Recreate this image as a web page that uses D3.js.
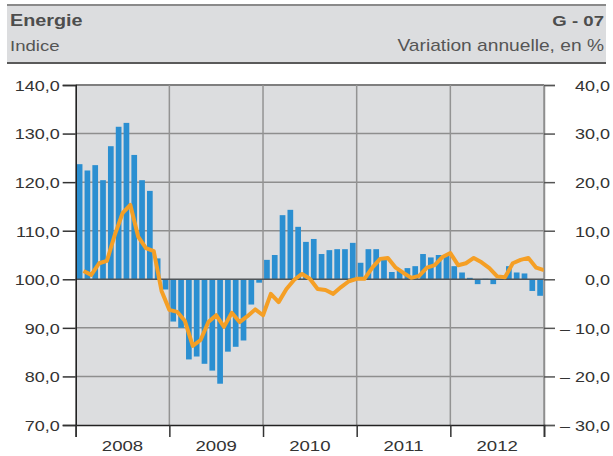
<!DOCTYPE html>
<html>
<head>
<meta charset="utf-8">
<script src="https://cdn.jsdelivr.net/npm/d3@7"></script>
<style>
  html, body { margin: 0; padding: 0; background: #fff; }
  svg { display: block; font-family: "Liberation Sans", Arial, sans-serif; }
</style>
</head>
<body>
<svg id="chart" width="613" height="456"></svg>
<script>
// ---- data ----
const years = ["2008", "2009", "2010", "2011", "2012"];
const leftTicks = [70, 80, 90, 100, 110, 120, 130, 140];
const rightTicks = [-30, -20, -10, 0, 10, 20, 30, 40];
// annual variation, % (bars, right axis), monthly Jan 2008 .. Dec 2012
const variation2008 = [23.7, 22.4, 23.5, 20.4, 27.4, 31.4, 32.2, 25.6, 20.4, 18.2, 4.3, -2.1];
const variation2009 = [-8.7, -10.0, -16.5, -15.9, -17.4, -18.8, -21.5, -14.9, -13.9, -12.6, -5.2, -0.7];
const variation2010 = [4.0, 5.0, 13.2, 14.3, 10.8, 7.7, 8.3, 5.2, 6.0, 6.2, 6.2, 7.5];
const variation2011 = [3.4, 6.2, 6.2, 4.0, 1.5, 1.7, 2.3, 2.7, 5.2, 4.5, 5.0, 5.0];
const variation2012 = [2.7, 1.4, 0.3, -1.0, 0.1, -1.0, 0.1, 2.7, 1.4, 1.2, -2.4, -3.4];
// index (line, left axis)
const index2008 = [101.7, 100.9, 103.3, 103.8, 109.1, 113.6, 115.3, 108.8, 106.4, 105.8, 97.6, 93.7];
const index2009 = [93.3, 91.4, 86.3, 87.5, 91.2, 92.6, 90.2, 93.1, 91.2, 92.4, 93.8, 92.6];
const index2010 = [97.0, 95.3, 98.0, 99.9, 101.1, 100.1, 98.0, 97.8, 97.0, 98.4, 99.6, 100.1];
const index2011 = [100.1, 102.4, 104.2, 104.4, 102.4, 101.3, 100.3, 100.7, 102.4, 102.9, 104.6, 105.4];
const index2012 = [102.9, 103.3, 104.4, 103.5, 102.3, 100.6, 100.4, 103.3, 104.0, 104.4, 102.4, 101.9];

const variation = [].concat(variation2008, variation2009, variation2010, variation2011, variation2012);
const indexVals = [].concat(index2008, index2009, index2010, index2011, index2012);
const nMonths = variation.length;

// ---- layout ----
const svg = d3.select("#chart");
const X0 = 75.7, X1 = 544, Y0 = 85, Y1 = 425;
const SX = 1.2; // horizontal text stretch of the original

const xLin = d3.scaleLinear().domain([0, nMonths]).range([X0, X1]);
const xBand = d3.scaleBand().domain(d3.range(nMonths)).range([X0, X1]).paddingInner(0.27).paddingOuter(0.135);
const yL = d3.scaleLinear().domain([70, 140]).range([Y1, Y0]);
const yR = d3.scaleLinear().domain([-30, 40]).range([Y1, Y0]);

function stretchText(sel, x, y, size, weight, anchor, fill, txt) {
  return sel.append("text")
    .attr("transform", `translate(${x},${y}) scale(${SX},1)`)
    .attr("font-size", size).attr("font-weight", weight)
    .attr("text-anchor", anchor).attr("fill", fill).text(txt);
}

// ---- header ----
svg.append("rect").attr("x", 7).attr("y", 5).attr("width", 599).attr("height", 58).attr("fill", "#dcdddf");
svg.append("line").attr("x1", 7).attr("x2", 606).attr("y1", 5).attr("y2", 5).attr("stroke", "#8a8a8a").attr("stroke-width", 2);
svg.append("line").attr("x1", 7).attr("x2", 606).attr("y1", 63).attr("y2", 63).attr("stroke", "#5a5a5a").attr("stroke-width", 2);
stretchText(svg, 10, 26, 16.5, "bold", "start", "#4d4d4d", "Energie");
stretchText(svg, 604, 26, 15.5, "bold", "end", "#4d4d4d", "G - 07");
stretchText(svg, 10, 51, 15.5, "normal", "start", "#555", "Indice");
stretchText(svg, 604, 51, 16, "normal", "end", "#555", "Variation annuelle, en %");

// ---- plot background ----
svg.append("rect").attr("x", X0).attr("y", Y0).attr("width", X1 - X0).attr("height", Y1 - Y0).attr("fill", "#dcdddf");

// horizontal gridlines
svg.append("g").selectAll("line").data(leftTicks.filter(d => d !== 70 && d !== 100)).join("line")
  .attr("x1", X0).attr("x2", X1).attr("y1", d => yL(d)).attr("y2", d => yL(d))
  .attr("stroke", d => d === 140 ? "#7f7f7f" : "#8e8e8e").attr("stroke-width", d => d === 140 ? 2 : 1.5);

// vertical year gridlines
svg.append("g").selectAll("line").data(d3.range(1, years.length + 1)).join("line")
  .attr("x1", d => xLin(d * 12)).attr("x2", d => xLin(d * 12)).attr("y1", Y0).attr("y2", Y1)
  .attr("stroke", "#939393").attr("stroke-width", 1.5);

// ---- bars ----
svg.append("g").selectAll("rect").data(variation).join("rect")
  .attr("x", (d, i) => xBand(i)).attr("width", xBand.bandwidth())
  .attr("y", d => yR(Math.max(0, d))).attr("height", d => Math.abs(yR(d) - yR(0)))
  .attr("fill", "#2b8fd1");

// zero line
svg.append("line").attr("x1", X0).attr("x2", X1).attr("y1", yR(0)).attr("y2", yR(0))
  .attr("stroke", "#4f5559").attr("stroke-width", 1.6);

// ---- index line ----
const line = d3.line().x((d, i) => xLin(i + 1)).y(d => yL(d));
svg.append("path").datum(indexVals).attr("d", line)
  .attr("fill", "none").attr("stroke", "#f59f25").attr("stroke-width", 4).attr("stroke-linejoin", "round");

// ---- axes ----
// left
const axL = svg.append("g").attr("transform", `translate(${X0},0)`)
  .call(d3.axisLeft(yL).tickValues(leftTicks).tickSize(13).tickPadding(3).tickFormat(d => d3.format(".1f")(d).replace(".", ",")));
axL.select(".domain").attr("stroke", "#222").attr("stroke-width", 1.6);
axL.selectAll(".tick line").attr("stroke", "#333").attr("stroke-width", 1.5);
axL.selectAll(".tick text").each(function () {
  const t = d3.select(this);
  const x = +t.attr("x");
  t.attr("x", null).attr("dy", "0.36em").attr("transform", `translate(${x},0) scale(${SX},1)`)
    .attr("font-size", 15).attr("fill", "#333").attr("font-family", "Liberation Sans, Arial, sans-serif");
});

// right
const axR = svg.append("g").attr("transform", `translate(${X1},0)`)
  .call(d3.axisRight(yR).tickValues(rightTicks).tickSize(11).tickPadding(0)
    .tickFormat(d => (d < 0 ? "\u2013 " : "") + d3.format(".1f")(Math.abs(d)).replace(".", ",")));
axR.select(".domain").attr("stroke", "#8e8e8e").attr("stroke-width", 1.5);
axR.selectAll(".tick line").attr("stroke", "#555").attr("stroke-width", 1.5);
axR.selectAll(".tick text").each(function () {
  const t = d3.select(this);
  t.attr("x", null).attr("dy", "0.36em").attr("text-anchor", "end")
    .attr("transform", `translate(${610 - X1},0) scale(${SX},1)`)
    .attr("font-size", 15).attr("fill", "#333").attr("font-family", "Liberation Sans, Arial, sans-serif");
});

// bottom
const xYears = d3.scaleLinear().domain([0, years.length]).range([X0, X1]);
const axB = svg.append("g").attr("transform", `translate(0,${Y1})`)
  .call(d3.axisBottom(xYears).tickValues(d3.range(0, years.length + 1)).tickSize(12).tickFormat(""));
axB.select(".domain").attr("stroke", "#222").attr("stroke-width", 1.6);
axB.selectAll(".tick line").attr("stroke", "#333").attr("stroke-width", 1.5);
svg.append("g").selectAll("text").data(years).join("text")
  .attr("transform", (d, i) => `translate(${xYears(i + 0.5)},${Y1 + 26}) scale(${SX},1)`)
  .attr("text-anchor", "middle").attr("font-size", 15.5).attr("fill", "#333").text(d => d);
</script>
</body>
</html>
